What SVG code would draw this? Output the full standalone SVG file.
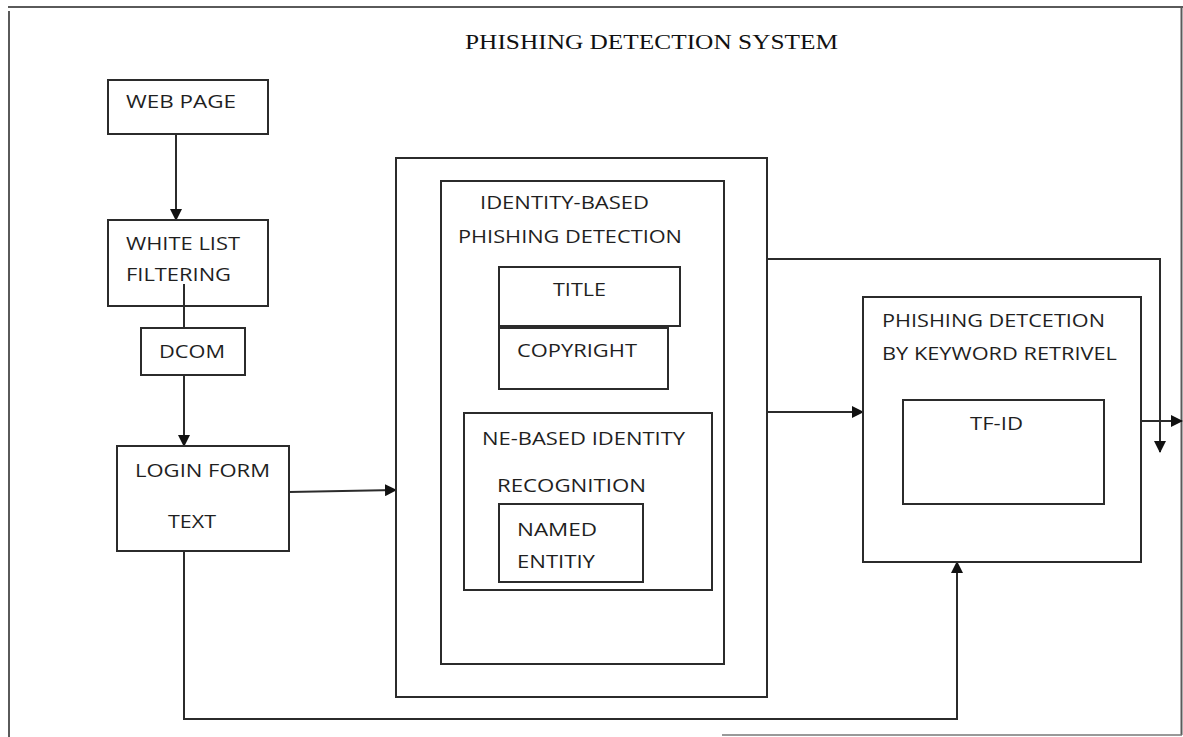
<svg xmlns="http://www.w3.org/2000/svg" width="1183" height="737" viewBox="0 0 1183 737">
  <style>
    .box { fill: #ffffff; stroke: #2b2b2b; stroke-width: 2; }
    .line { fill: none; stroke: #2b2b2b; stroke-width: 2; }
    .frame { fill: none; stroke: #5a5a5a; stroke-width: 2; }
    .lbl { font-family: "Open Sans", "Liberation Sans", sans-serif; font-size: 18px; fill: #1f1f1f; }
    .title { font-family: "Liberation Serif", "Times New Roman", serif; font-size: 22px; fill: #111111; }
  </style>
  <defs>
    <marker id="arrow" viewBox="0 0 12 12" refX="11" refY="6" markerWidth="12" markerHeight="12" markerUnits="userSpaceOnUse" orient="auto">
      <path d="M0,0 L12,6 L0,12 Z" fill="#111111"/>
    </marker>
  </defs>

  <rect width="1183" height="737" fill="#ffffff"/>

  <!-- page frame -->
  <g id="frame">
    <line class="frame" x1="8" y1="7" x2="1183" y2="7"/>
    <line class="frame" x1="9" y1="11" x2="9" y2="737"/>
    <line class="frame" x1="1181.5" y1="8" x2="1181.5" y2="735"/>
    <line x1="722" y1="735" x2="1182" y2="735" stroke="#777777" stroke-width="1.5"/>
  </g>

  <text class="title" x="465" y="49" textLength="373" lengthAdjust="spacingAndGlyphs">PHISHING DETECTION SYSTEM</text>

  <!-- connectors -->
  <g id="connectors">
    <line class="line" x1="176" y1="122" x2="176" y2="220" marker-end="url(#arrow)"/>
    <line class="line" x1="184" y1="284" x2="184" y2="328"/>
    <line class="line" x1="184" y1="375" x2="184" y2="446" marker-end="url(#arrow)"/>
    <line class="line" x1="289" y1="492" x2="396" y2="490" marker-end="url(#arrow)"/>
    <polyline class="line" points="184,551 184,719 957,719 957,562" marker-end="url(#arrow)"/>
    <line class="line" x1="767" y1="412" x2="863" y2="412" marker-end="url(#arrow)"/>
    <polyline class="line" points="767,259 1160,259 1160,452" marker-end="url(#arrow)"/>
    <line class="line" x1="1141" y1="421" x2="1182" y2="421" marker-end="url(#arrow)"/>
  </g>

  <g id="web-page">
    <rect class="box" x="108" y="80" width="160" height="54"/>
    <text class="lbl" x="126" y="108" textLength="110" lengthAdjust="spacingAndGlyphs">WEB PAGE</text>
  </g>

  <g id="white-list">
    <rect class="box" x="108" y="220" width="160" height="86"/>
    <text class="lbl" x="126" y="250" textLength="114" lengthAdjust="spacingAndGlyphs">WHITE LIST</text>
    <text class="lbl" x="126" y="281" textLength="105" lengthAdjust="spacingAndGlyphs">FILTERING</text>
    <line class="line" x1="184" y1="284" x2="184" y2="306"/>
  </g>

  <g id="dcom">
    <rect class="box" x="141" y="328" width="104" height="47"/>
    <text class="lbl" x="159" y="358" textLength="66" lengthAdjust="spacingAndGlyphs">DCOM</text>
  </g>

  <g id="login-form">
    <rect class="box" x="117" y="446" width="172" height="105"/>
    <text class="lbl" x="135" y="477" textLength="135" lengthAdjust="spacingAndGlyphs">LOGIN FORM</text>
    <text class="lbl" x="168" y="528" textLength="48" lengthAdjust="spacingAndGlyphs">TEXT</text>
  </g>

  <g id="identity-module">
    <rect class="box" x="396" y="158" width="371" height="539"/>
    <rect class="box" x="441" y="181" width="283" height="483"/>
    <text class="lbl" x="480" y="209" textLength="169" lengthAdjust="spacingAndGlyphs">IDENTITY-BASED</text>
    <text class="lbl" x="458" y="243" textLength="224" lengthAdjust="spacingAndGlyphs">PHISHING DETECTION</text>
  </g>

  <g id="title-box">
    <rect class="box" x="499" y="267" width="181" height="59"/>
    <text class="lbl" x="553" y="296" textLength="53" lengthAdjust="spacingAndGlyphs">TITLE</text>
  </g>

  <g id="copyright-box">
    <rect class="box" x="499" y="328" width="169" height="61"/>
    <text class="lbl" x="517" y="357" textLength="120" lengthAdjust="spacingAndGlyphs">COPYRIGHT</text>
  </g>

  <g id="ne-recognition">
    <rect class="box" x="464" y="413" width="248" height="177"/>
    <text class="lbl" x="482" y="445" textLength="203" lengthAdjust="spacingAndGlyphs">NE-BASED IDENTITY</text>
    <text class="lbl" x="497" y="492" textLength="149" lengthAdjust="spacingAndGlyphs">RECOGNITION</text>
  </g>

  <g id="named-entity">
    <rect class="box" x="499" y="504" width="144" height="78"/>
    <text class="lbl" x="517" y="536" textLength="80" lengthAdjust="spacingAndGlyphs">NAMED</text>
    <text class="lbl" x="517" y="568" textLength="78" lengthAdjust="spacingAndGlyphs">ENTITIY</text>
  </g>

  <g id="keyword-module">
    <rect class="box" x="863" y="297" width="278" height="265"/>
    <text class="lbl" x="882" y="327" textLength="223" lengthAdjust="spacingAndGlyphs">PHISHING DETCETION</text>
    <text class="lbl" x="882" y="360" textLength="235" lengthAdjust="spacingAndGlyphs">BY KEYWORD RETRIVEL</text>
  </g>

  <g id="tf-id">
    <rect class="box" x="903" y="400" width="201" height="104"/>
    <text class="lbl" x="970" y="430" textLength="53" lengthAdjust="spacingAndGlyphs">TF-ID</text>
  </g>
</svg>
